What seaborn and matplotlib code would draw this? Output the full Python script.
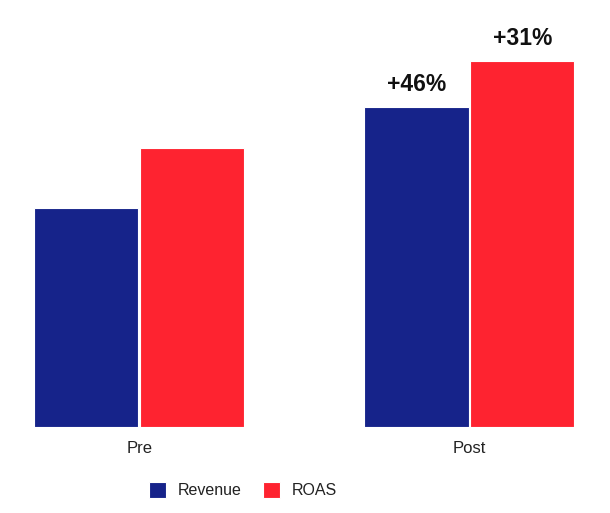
import pandas as pd
import seaborn as sns
import matplotlib.pyplot as plt

# values (bar heights, arbitrary units)
periods = ["Pre", "Post"]
revenue = [218.7, 319.7]
roas = [279.0, 365.7]
uplift_labels = ["+46%", "+31%"]

df = pd.DataFrame({
    "period": periods * 2,
    "metric": ["Revenue"] * 2 + ["ROAS"] * 2,
    "value": revenue + roas,
})

sns.set_theme(style="white")
plt.rcParams["font.family"] = ["Liberation Sans", "DejaVu Sans"]

fig = plt.figure(figsize=(6.1, 5.13), dpi=100)
ax = fig.add_axes([0, 86.3 / 513, 1, 426.7 / 513])

palette = {"Revenue": "#16238A", "ROAS": "#FE2330"}
sns.barplot(data=df, x="period", y="value", hue="metric", palette=palette,
            width=0.641, gap=0.017, edgecolor="white", linewidth=0.8,
            saturation=1, ax=ax, legend=True)

px = 330.2
ax.set_xlim(-139.2 / px, (610 - 139.2) / px)
ax.set_ylim(0, 426.7)

# uplift labels above the Post bars
post_bars = [ax.containers[0][1], ax.containers[1][1]]
for bar, lab in zip(post_bars, uplift_labels):
    ax.annotate(lab, (bar.get_x() + bar.get_width() / 2, bar.get_height()),
                xytext=(0, 11.5), textcoords="offset points",
                ha="center", va="baseline", fontsize=16.5, fontweight="bold",
                color="#111111")

ax.set_xlabel("")
ax.set_ylabel("")
ax.set_yticks([])
ax.tick_params(axis="x", length=0, pad=10, labelsize=12, labelcolor="#222222")
for s in ax.spines.values():
    s.set_visible(False)

ax.legend_.remove()
handles, labels = ax.get_legend_handles_labels()
fig.legend(handles, labels, loc="center", bbox_to_anchor=(243 / 610, 1 - 490 / 513),
           ncol=2, frameon=False, fontsize=11.5, handlelength=1.05, handleheight=1.25,
           handletextpad=0.7, columnspacing=1.4, labelcolor="#222222")

fig.savefig("out.png", dpi=100)
